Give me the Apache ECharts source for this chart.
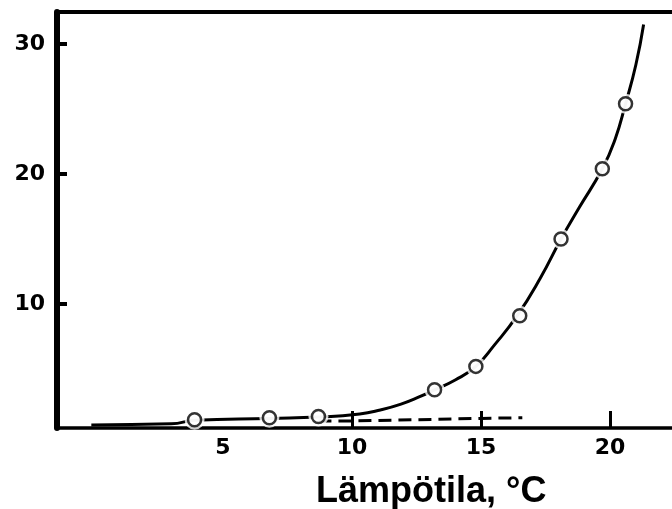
<!DOCTYPE html>
<html>
<head>
<meta charset="utf-8">
<script src="https://cdn.jsdelivr.net/npm/echarts@6/dist/echarts.min.js"></script>
<style>
  html, body { margin: 0; padding: 0; background: #fff; }
  #chart { width: 672px; height: 509px; }
</style>
</head>
<body>
<div id="chart"></div>
<script>
// Measured points (open circles): temperature °C and rate
const pointTemps = [3.9, 6.8, 8.7, 13.2, 14.8, 16.5, 18.1, 19.7, 20.6];
const pointRates = [1.1, 1.25, 1.35, 3.4, 5.2, 9.1, 15.0, 20.4, 25.4];

// Fitted curve through the measurements
const curveTemps = [-0.1, 3.0, 3.9, 6.8, 8.7, 10.3, 11.1, 11.9, 12.6, 13.2, 14.0, 14.8, 15.5, 16.4, 17.3, 18.1, 18.8, 19.7, 20.2, 20.6, 21.0, 21.3];
const curveRates = [0.7, 0.78, 1.05, 1.2, 1.3, 1.54, 1.85, 2.3, 2.85, 3.4, 4.15, 5.2, 6.8, 9.1, 12.0, 15.0, 17.4, 20.4, 22.7, 25.4, 28.4, 31.5];

// Dashed reference line
const dashTemps = [8.7, 10, 15, 16.6];
const dashRates = [1.0, 1.0, 1.2, 1.25];

// Axis labels
const xTickValues = [10, 15, 20];
const xLabelValues = [5, 10, 15, 20];
const yTickValues = [10, 20, 30];

const xTitle = 'Lämpötila, °C';

const pairs = (xs, ys) => xs.map((x, i) => [x, ys[i]]);

const chart = echarts.init(document.getElementById('chart'), null, { renderer: 'canvas' });

const labelFont = {
  color: '#000',
  fontFamily: 'DejaVu Sans',
  fontWeight: 'bold',
  fontSize: 22
};

chart.setOption({
  animation: false,
  backgroundColor: '#fff',
  title: {
    text: xTitle,
    left: 316,
    top: 474,
    padding: 0,
    textStyle: {
      color: '#000',
      fontFamily: 'Liberation Sans',
      fontWeight: 'bold',
      fontSize: 36
    }
  },
  grid: { left: 57, right: 0, top: 12, bottom: 81, containLabel: false },
  xAxis: [
    {
      type: 'value',
      position: 'bottom',
      min: -1.43,
      max: 22.4,
      splitLine: { show: false },
      axisLine: { show: true, onZero: false, lineStyle: { color: '#000', width: 3.5 } },
      axisTick: {
        show: true,
        inside: true,
        length: 17,
        customValues: xTickValues,
        lineStyle: { color: '#000', width: 3 }
      },
      axisLabel: Object.assign({ margin: 9, customValues: xLabelValues }, labelFont)
    },
    {
      type: 'value',
      position: 'top',
      min: -1.43,
      max: 22.4,
      splitLine: { show: false },
      axisLine: { show: true, onZero: false, lineStyle: { color: '#000', width: 4 } },
      axisTick: { show: false },
      axisLabel: { show: false }
    }
  ],
  yAxis: {
    type: 'value',
    min: 0.46,
    max: 32.46,
    splitLine: { show: false },
    axisLine: { show: true, onZero: false, lineStyle: { color: '#000', width: 6 } },
    axisTick: {
      show: true,
      inside: true,
      length: 10,
      customValues: yTickValues,
      lineStyle: { color: '#000', width: 4 }
    },
    axisLabel: Object.assign({ margin: 12, customValues: yTickValues }, labelFont)
  },
  series: [
    {
      type: 'line',
      data: pairs(curveTemps, curveRates),
      smooth: 0.5,
      showSymbol: false,
      lineStyle: { color: '#000', width: 3 },
      z: 2
    },
    {
      type: 'line',
      data: pairs(dashTemps, dashRates),
      showSymbol: false,
      lineStyle: { color: '#000', width: 3, type: [13, 7] },
      z: 2
    },
    {
      // white halo so the curve breaks around each circle
      type: 'scatter',
      data: pairs(pointTemps, pointRates),
      symbol: 'circle',
      symbolSize: 20,
      itemStyle: { color: '#fff' },
      z: 3
    },
    {
      type: 'scatter',
      data: pairs(pointTemps, pointRates),
      symbol: 'circle',
      symbolSize: 13,
      itemStyle: { color: '#fff', borderColor: '#000', borderWidth: 2.5 },
      z: 4
    }
  ]
});
</script>
</body>
</html>
